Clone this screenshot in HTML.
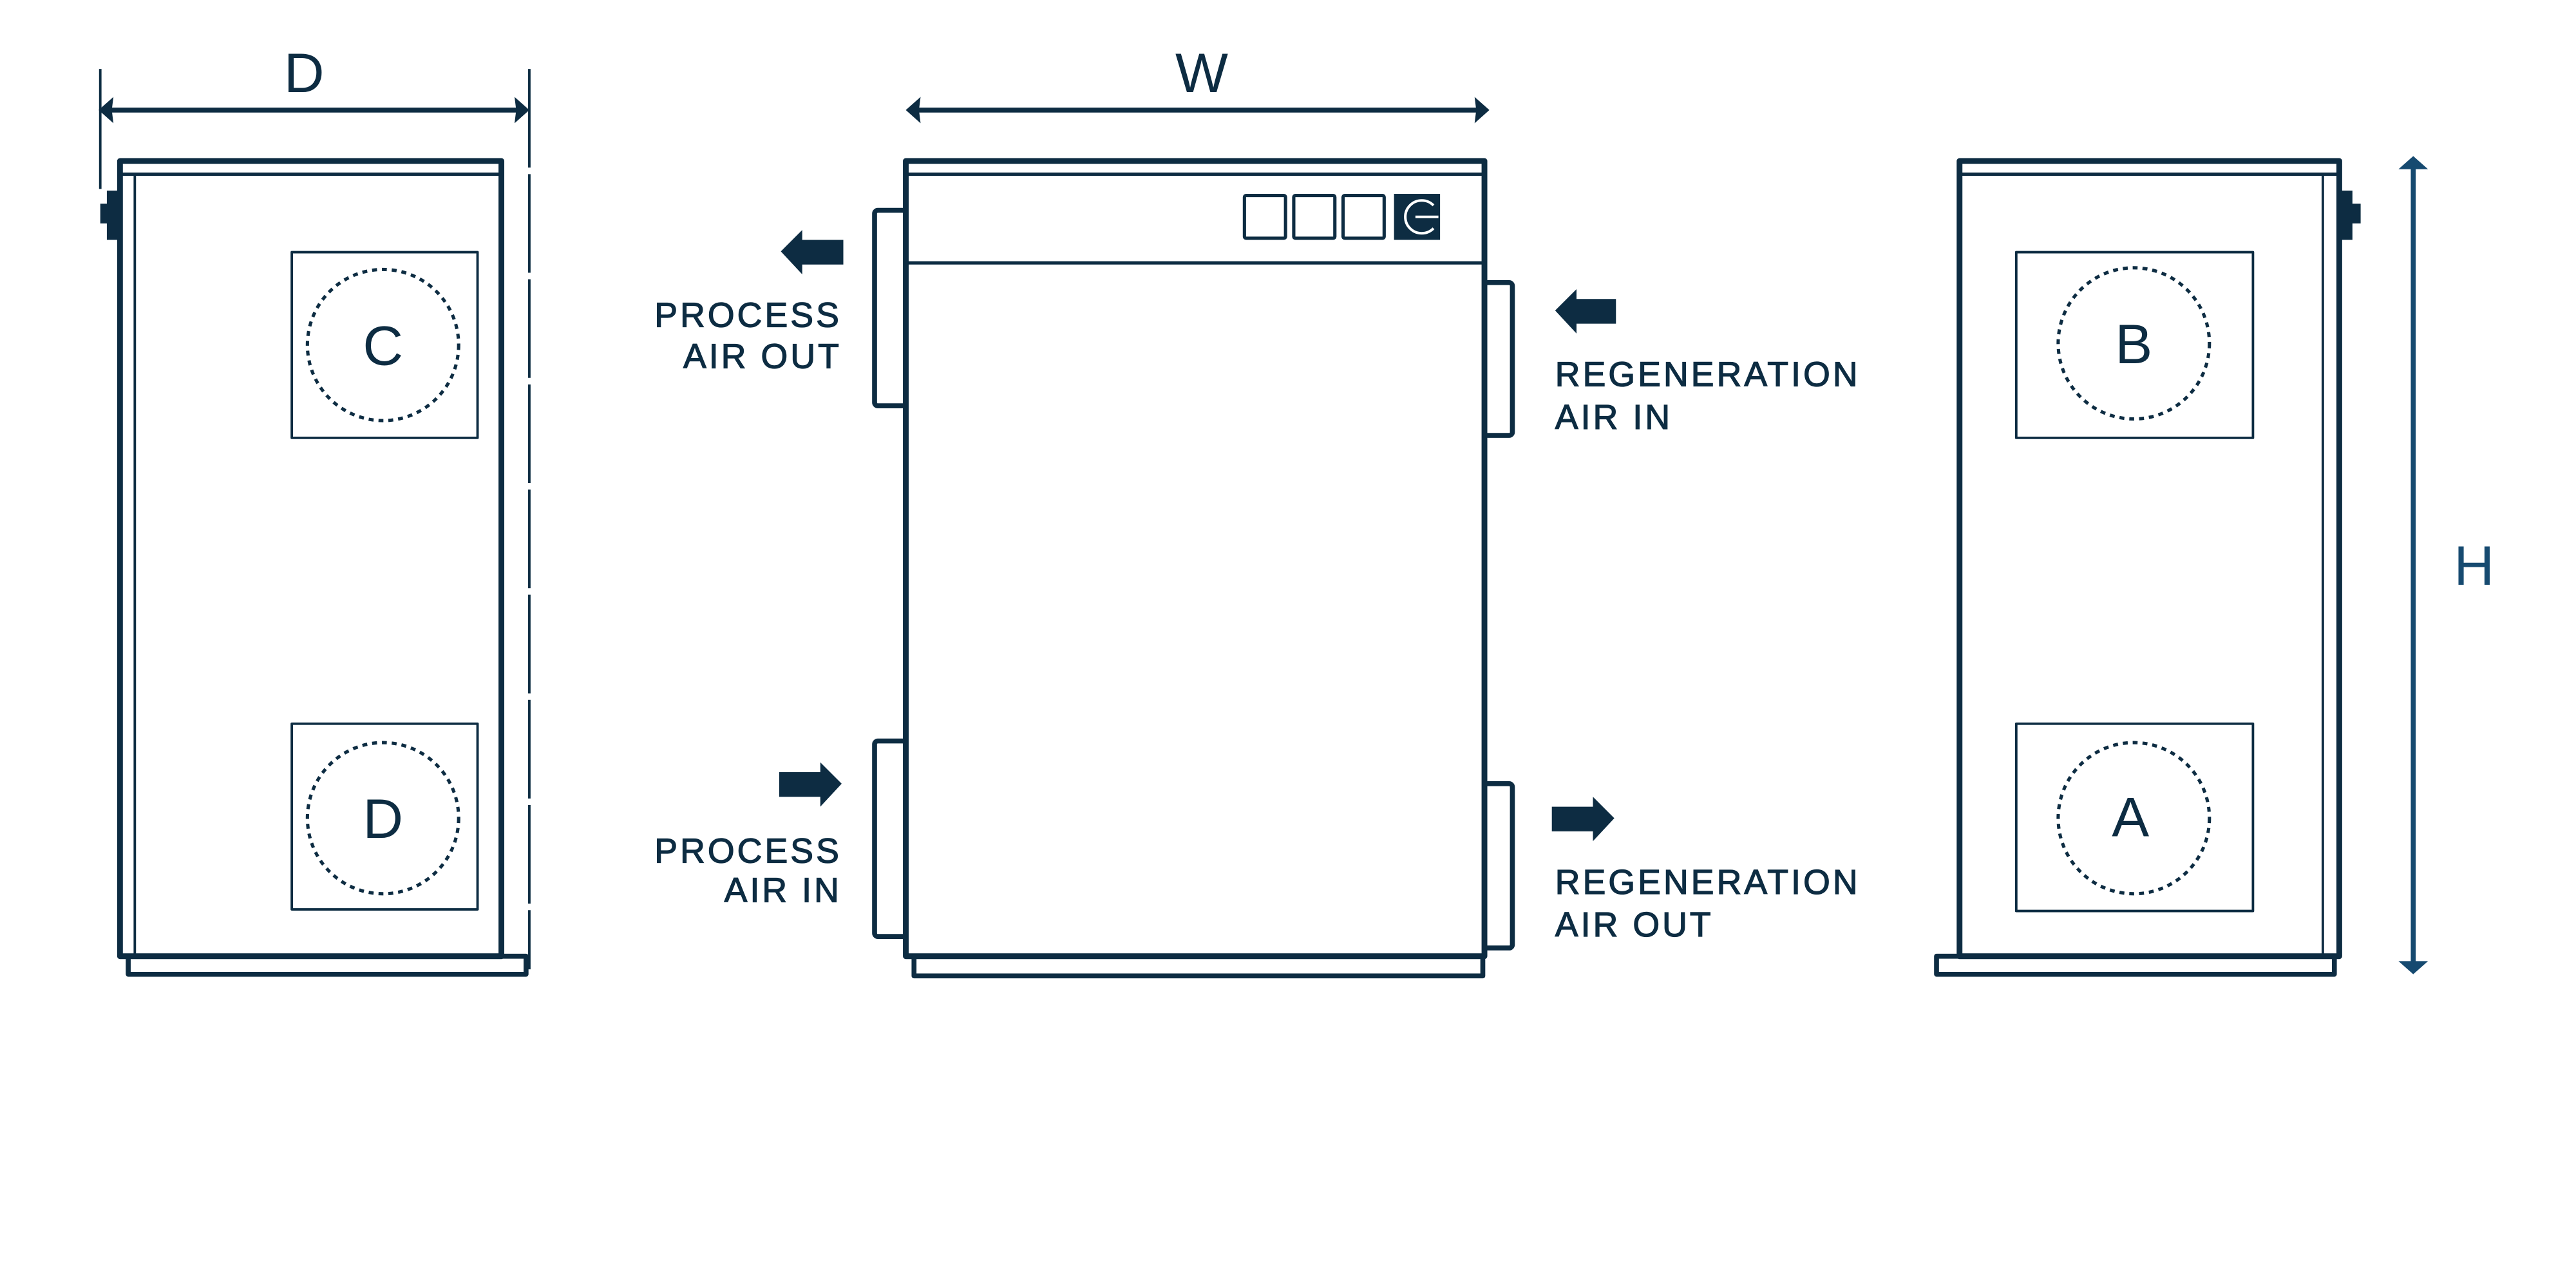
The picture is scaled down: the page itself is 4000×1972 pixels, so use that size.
<!DOCTYPE html>
<html><head><style>html,body{margin:0;padding:0;background:#fff}svg{display:block}</style></head>
<body>
<svg width="4000" height="1972" viewBox="0 0 1567 773" preserveAspectRatio="none" xmlns="http://www.w3.org/2000/svg">
<g fill="none" stroke="#0d2c42" stroke-linejoin="round">
<line x1="61" y1="42" x2="61" y2="115" stroke-width="1.5"/>
<line x1="322" y1="42" x2="322" y2="590" stroke-width="1.5" stroke-dasharray="60,4"/>
<line x1="64" y1="67" x2="319" y2="67" stroke-width="3"/>
<rect x="73" y="98" width="232" height="484" stroke-width="3.5"/>
<line x1="73" y1="106" x2="305" y2="106" stroke-width="2"/>
<line x1="82" y1="106" x2="82" y2="582" stroke-width="1.5"/>
<rect x="78" y="582" width="242" height="11" stroke-width="3"/>
<rect x="177.5" y="153.5" width="113" height="113" stroke-width="1.5"/>
<rect x="177.5" y="440.5" width="113" height="113" stroke-width="1.5"/>
<circle cx="233" cy="210" r="46" stroke-width="2" stroke-dasharray="3,3"/>
<circle cx="233" cy="498" r="46" stroke-width="2" stroke-dasharray="3,3"/>
<line x1="556" y1="67" x2="902" y2="67" stroke-width="3"/>
<rect x="551" y="98" width="352" height="484" stroke-width="3.5"/>
<line x1="551" y1="106" x2="903" y2="106" stroke-width="2"/>
<line x1="551" y1="160" x2="903" y2="160" stroke-width="2"/>
<rect x="556" y="582" width="346" height="12" stroke-width="3"/>
<rect x="532" y="128" width="19" height="119" stroke-width="3" rx="2"/>
<rect x="532" y="451" width="19" height="119" stroke-width="3" rx="2"/>
<rect x="903" y="172" width="17" height="93" stroke-width="3" rx="2"/>
<rect x="903" y="477" width="17" height="100" stroke-width="3" rx="2"/>
<rect x="757" y="119" width="25" height="26" stroke-width="2" rx="1"/>
<rect x="787" y="119" width="25" height="26" stroke-width="2" rx="1"/>
<rect x="817" y="119" width="25" height="26" stroke-width="2" rx="1"/>
<rect x="1192" y="98" width="231" height="484" stroke-width="3.5"/>
<line x1="1192" y1="106" x2="1423" y2="106" stroke-width="2"/>
<line x1="1413" y1="106" x2="1413" y2="582" stroke-width="1.5"/>
<rect x="1178" y="582" width="242" height="11" stroke-width="3"/>
<rect x="1226.5" y="153.5" width="144" height="113" stroke-width="1.5"/>
<rect x="1226.5" y="440.5" width="144" height="114" stroke-width="1.5"/>
<ellipse cx="1298" cy="209" rx="46" ry="46" stroke-width="2" stroke-dasharray="3,3"/>
<ellipse cx="1298" cy="498" rx="46" ry="46" stroke-width="2" stroke-dasharray="3,3"/>
<line x1="1468" y1="100" x2="1468" y2="588" stroke="#164a70" stroke-width="3"/>
</g>
<g fill="#0d2c42">
<polygon points="60,67 69,59 68,67 69,75"/>
<polygon points="322,67 313,59 314,67 313,75"/>
<polygon points="551,67 560,59 559,67 560,75"/>
<polygon points="906,67 897,59 898,67 897,75"/>
<polygon fill="#164a70" points="1468,95 1459,103 1477,103"/>
<polygon fill="#164a70" points="1468,593 1459,585 1477,585"/>
<rect x="65" y="116" width="8" height="30"/><rect x="61" y="124" width="5" height="12"/>
<rect x="1423" y="116" width="8" height="30"/><rect x="1430" y="124" width="6" height="12"/>
<rect x="848" y="118" width="28" height="28"/>
<polygon points="475,153 488,140 488,146 513,146 513,161 488,161 488,167"/>
<polygon points="512,477 499,464 499,470 474,470 474,485 499,485 499,491"/>
<polygon points="946,189 959,176 959,182 983,182 983,197 959,197 959,203"/>
<polygon points="982,498 969,485 969,491 944,491 944,506 969,506 969,512"/>
</g>
<path d="M872 125 A10 10 0 1 0 872 139" fill="none" stroke="#fff" stroke-width="1.6"/>
<line x1="861" y1="132" x2="875" y2="132" stroke="#fff" stroke-width="1.6"/>
<g font-family="'Liberation Sans', sans-serif" fill="#0d2c42">
<text x="185" y="56" font-size="34" text-anchor="middle">D</text>
<text x="731" y="56" font-size="34" text-anchor="middle">W</text>
<text x="1505" y="356" font-size="34" text-anchor="middle" fill="#164a70">H</text>
<text x="233" y="222" font-size="34" text-anchor="middle">C</text>
<text x="233" y="510" font-size="34" text-anchor="middle">D</text>
<text x="1298" y="221" font-size="34" text-anchor="middle">B</text>
<text x="1296" y="509" font-size="34" text-anchor="middle">A</text>
<g font-size="21" letter-spacing="1.6" stroke="#0d2c42" stroke-width="0.5">
<text x="512" y="199" text-anchor="end">PROCESS</text>
<text x="512" y="224" text-anchor="end">AIR OUT</text>
<text x="512" y="525" text-anchor="end">PROCESS</text>
<text x="512" y="549" text-anchor="end">AIR IN</text>
<text x="946" y="235">REGENERATION</text>
<text x="946" y="261">AIR IN</text>
<text x="946" y="544">REGENERATION</text>
<text x="946" y="570">AIR OUT</text>
</g>
</g>
</svg>
</body></html>
